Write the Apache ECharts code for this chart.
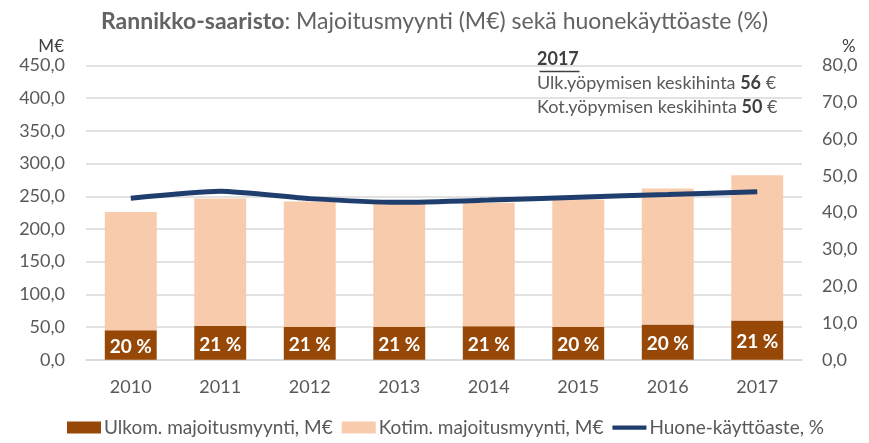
<!DOCTYPE html>
<html>
<head>
<meta charset="utf-8">
<script src="https://cdn.jsdelivr.net/npm/echarts@6/dist/echarts.min.js"></script>
<style>
  html, body { margin: 0; padding: 0; background: #fff; }
  #chart { width: 869px; height: 443px; }
</style>
</head>
<body>
<div id="chart"></div>
<script>
var years = ['2010', '2011', '2012', '2013', '2014', '2015', '2016', '2017'];
var ulkom = [45, 52, 50, 50, 51, 50, 54, 60];          // Ulkom. majoitusmyynti, M€
var kotim = [181, 194.5, 192, 189, 189, 195, 208, 222]; // Kotim. majoitusmyynti, M€
var kayttoaste = [43.9, 45.8, 43.8, 42.8, 43.4, 44.2, 44.9, 45.7]; // Huone-käyttöaste, %
var ulkomShare = ['20 %', '21 %', '21 %', '21 %', '21 %', '20 %', '20 %', '21 %'];

var font = 'Lato';
var grey = '#595959';

function comma(v) {
    return v.toFixed(1).replace('.', ',');
}

var myChart = echarts.init(document.getElementById('chart'));
var option = {
    animation: false,
    textStyle: { fontFamily: font, color: grey },
    title: {
        text: '{b|Rannikko-saaristo}: Majoitusmyynti (M€) sekä huonekäyttöaste (%)',
        left: 'center',
        top: 5,
        textStyle: {
            fontFamily: font, fontSize: 23, fontWeight: 'normal', color: '#636363',
            rich: { b: { fontFamily: font, fontSize: 23, fontWeight: 'bold', color: '#636363' } }
        }
    },
    grid: { left: 86, right: 67, top: 65.5, bottom: 83.3 },
    legend: {
        bottom: 1,
        left: 62,
        itemWidth: 34,
        itemHeight: 12,
        itemGap: 9,
        textStyle: { fontFamily: font, fontSize: 19, color: grey, padding: [0, 0, 0, -2] },
        data: [
            { name: 'Ulkom. majoitusmyynti, M€', icon: 'rect' },
            { name: 'Kotim. majoitusmyynti, M€', icon: 'rect' },
            { name: 'Huone-käyttöaste, %', icon: 'path://M0,0 L40,0 L40,5 L0,5 Z' }
        ]
    },
    xAxis: {
        type: 'category',
        data: years,
        axisLine: { lineStyle: { color: '#d5d9de', width: 1.5 } },
        axisTick: { show: false },
        axisLabel: { fontFamily: font, fontSize: 18, color: grey, margin: 18 }
    },
    yAxis: [
        {
            type: 'value', min: 0, max: 450, interval: 50,
            name: 'M€', nameLocation: 'end', nameGap: 10,
            nameTextStyle: { fontFamily: font, fontSize: 17, color: '#404040', align: 'right', padding: [0, 22, 0, 0] },
            axisLabel: { fontFamily: font, fontSize: 18, color: grey, margin: 21, formatter: comma },
            splitLine: { lineStyle: { color: '#d9d9d9', width: 1.5 } },
            axisLine: { show: false }, axisTick: { show: false }
        },
        {
            type: 'value', min: 0, max: 80, interval: 10,
            name: '%', nameLocation: 'end', nameGap: 10,
            nameTextStyle: { fontFamily: font, fontSize: 17, color: '#404040', align: 'left', padding: [0, 0, 0, 40] },
            axisLabel: { fontFamily: font, fontSize: 18, color: grey, margin: 20, formatter: comma },
            splitLine: { show: false },
            axisLine: { show: false }, axisTick: { show: false }
        }
    ],
    series: [
        {
            name: 'Ulkom. majoitusmyynti, M€',
            type: 'bar',
            stack: 'myynti',
            barWidth: '58%',
            data: ulkom,
            itemStyle: { color: '#974806' },
            label: {
                show: true, position: 'inside', offset: [0, 2],
                fontFamily: font, fontSize: 19, fontWeight: 'bold', color: '#fff',
                formatter: function (p) { return ulkomShare[p.dataIndex]; }
            }
        },
        {
            name: 'Kotim. majoitusmyynti, M€',
            type: 'bar',
            stack: 'myynti',
            data: kotim,
            itemStyle: { color: '#f8cbad' }
        },
        {
            name: 'Huone-käyttöaste, %',
            type: 'line',
            yAxisIndex: 1,
            data: kayttoaste,
            smooth: 0.2,
            symbol: 'none',
            lineStyle: { color: '#1f3e6e', width: 5 },
            itemStyle: { color: '#1f3e6e' },
            z: 5
        }
    ],
    graphic: [
        {
            type: 'text', left: 537, top: 50,
            style: {
                text: '{u|2017}\n{t|Ulk.yöpymisen keskihinta }{b|56}{t| €}\n{t|Kot.yöpymisen keskihinta }{b|50}{t| €}',
                rich: {
                    u: { fontFamily: font, fontSize: 18, fontWeight: 'bold', fill: '#404040', lineHeight: 24 },
                    t: { fontFamily: font, fontSize: 18, fill: grey, lineHeight: 24 },
                    b: { fontFamily: font, fontSize: 18, fontWeight: 'bold', fill: '#404040', lineHeight: 24 }
                }
            }
        },
        {
            type: 'line', left: 537, top: 69,
            shape: { x1: 0, y1: 0, x2: 40, y2: 0 },
            style: { stroke: '#404040', lineWidth: 1.3 }
        }
    ]
};
myChart.setOption(option);
</script>
</body>
</html>
